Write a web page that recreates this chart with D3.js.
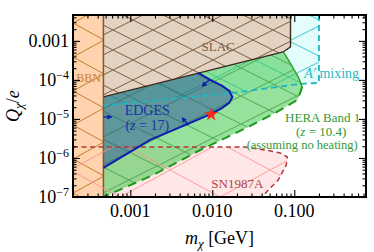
<!DOCTYPE html>
<html>
<head>
<meta charset="utf-8">
<script src="https://cdn.jsdelivr.net/npm/d3@7"></script>
<style>
body { margin: 0; background: #fff; }
text { font-family: "Liberation Serif", "DejaVu Serif", serif; }
</style>
</head>
<body>
<script>
// values: mass m_chi in GeV, charge Q_chi in units of e
var massRange = [2e-4, 0.75];
var chargeRange = [1e-7, 4.6e-3];

var massTicks = [0.001, 0.01, 0.1];
var massTickLabels = ["0.001", "0.010", "0.100"];
var chargeTicks = [1e-7, 1e-6, 1e-5, 1e-4, 1e-3];
var chargeTickLabels = [["10", "\u22127"], ["10", "\u22126"], ["10", "\u22125"], ["10", "\u22124"], ["0.001", ""]];

var bbnMass = 4.7e-4;

var slacBound = [[2e-4, 4.6e-3], [0.09, 4.6e-3], [0.09, 7.0e-4], [0.0734, 5.2e-4], [4.7e-4, 3.66e-5], [2e-4, 2.9e-5]];

var mixingBound = [[4.7e-4, 4.6e-3], [0.2, 4.6e-3], [0.2, 8.4e-5], [0.12, 7.9e-5], [0.018, 4.64e-5], [4.7e-4, 2.2e-5]];
var mixingLine = [[0.2, 4.6e-3], [0.2, 8.4e-5], [0.12, 7.9e-5], [0.018, 4.64e-5], [4.7e-4, 2.2e-5]];

var heraSolid = [[0.0734, 5.2e-4], [0.085, 3.2e-4], [0.112, 1.19e-4], [0.125, 6.6e-5]];
var heraDashed = [[0.125, 6.6e-5], [0.118, 4.64e-5], [0.109, 3.07e-5], [0.0586, 1.43e-5], [0.029, 6.6e-6], [0.00714, 1.6e-6], [0.0019, 3.66e-7], [4.7e-4, 1e-7]];

var edgesCurve = [[0.00675, 1.51e-4], [0.00946, 1.0e-4], [0.01324, 7.0e-5], [0.0161, 5.2e-5], [0.0176, 3.66e-5],
                  [0.0161, 2.57e-5], [0.01324, 1.92e-5], [0.00973, 1.34e-5], [0.0054, 7.9e-6], [0.00175, 2.9e-6], [4.7e-4, 5.55e-7]];
var edgesArrows = [
  [[4.7e-4, 1.12e-5], [5.9e-4, 1.12e-5]],
  [[0.00946, 1.06e-4], [0.00755, 7.0e-5]],
  [[0.0051, 7.0e-6], [0.0043, 1.06e-5]]
];
var edgesStar = [0.0097, 1.3e-5];

var snLine = [[2e-4, 1.9e-6], [0.0252, 1.9e-6], [0.0443, 1.6e-6], [0.0675, 1.34e-6], [0.0822, 1.06e-6],
              [0.0798, 6.6e-7], [0.0638, 2.73e-7], [0.0482, 1.51e-7], [0.0407, 1e-7]];

// text parts: [string, italic?]
var labels = [
  {t: [["BBN", 0]], m: 3.1e-4, q: 1.12e-4, c: "#c8803a", s: 12},
  {t: [["SLAC", 0]], m: 0.0118, q: 7.0e-4, c: "#7a5c44", s: 13},
  {t: [["EDGES", 0]], m: 1.61e-3, q: 1.7e-5, c: "#1f2fa8", s: 14},
  {t: [["(", 0], ["z", 1], [" = 17)", 0]], m: 1.61e-3, q: 7.0e-6, c: "#1f2fa8", s: 14},
  {t: [["HERA Band 1", 0]], m: 0.222, q: 1.1e-5, c: "#2f9a35", s: 13},
  {t: [["(", 0], ["z", 1], [" = 10.4)", 0]], m: 0.213, q: 4.9e-6, c: "#2f9a35", s: 13},
  {t: [["(assuming no heating)", 0]], m: 0.125, q: 2.2e-6, c: "#2f9a35", s: 12.5},
  {t: [["SN1987A", 0]], m: 0.0202, q: 2.29e-7, c: "#b04545", s: 13},
  {t: [["A\u2032", 1], [" mixing", 0]], m: 0.286, q: 1.5e-4, c: "#26b9c6", s: 14}
];

var W = 374, H = 252;
var x = d3.scaleLog().domain(massRange).range([73, 366]);
var y = d3.scaleLog().domain(chargeRange).range([197, 15]);

var svg = d3.select("body").append("svg").attr("width", W).attr("height", H);
var defs = svg.append("defs");

defs.append("clipPath").attr("id", "plotclip").append("rect")
  .attr("x", x.range()[0]).attr("y", y.range()[1])
  .attr("width", x.range()[1] - x.range()[0]).attr("height", y.range()[0] - y.range()[1]);

function hatch(id, w, h, color, sw, ox, oy) {
  var p = defs.append("pattern").attr("id", id)
    .attr("patternUnits", "userSpaceOnUse")
    .attr("width", w).attr("height", h).attr("x", ox).attr("y", oy);
  p.append("path")
    .attr("d", "M" + (-w / 2) + "," + (-h / 2) + "L" + (w * 1.5) + "," + (h * 1.5) +
               "M" + (-w / 2) + "," + (h * 1.5) + "L" + (w * 1.5) + "," + (-h / 2))
    .attr("stroke", color).attr("stroke-width", sw).attr("fill", "none");
}
hatch("hBBN", 62, 34, "#c77a2e", 1, 73, 23);
hatch("hSLAC", 40, 20, "#6e4c30", 0.9, 73, 10);
hatch("hMix", 72, 36, "#3cc6cf", 1, 73, 5);
hatch("hHera", 56, 28, "#3d9a3d", 0.8, 73, 12);
hatch("hSN", 100, 54, "#ff8e8e", 1, 70, 116);

var line = d3.line().x(function(d) { return x(d[0]); }).y(function(d) { return y(d[1]); });
var area = function(pts) { return line(pts) + "Z"; };

var g = svg.append("g").attr("clip-path", "url(#plotclip)");

// region outlines built from the boundary arrays
var snArea = snLine.concat([[massRange[0], chargeRange[0]]]);
var heraArea = [[bbnMass, 3.66e-5]].concat(heraSolid, heraDashed.slice(1));
var edgesArea = [[bbnMass, 3.66e-5]].concat(edgesCurve);
var bbnArea = [[massRange[0], chargeRange[0]], [bbnMass, chargeRange[0]], [bbnMass, chargeRange[1]], [massRange[0], chargeRange[1]]];

g.append("path").attr("d", area(snArea)).attr("fill", "#ffe7e7");
g.append("path").attr("d", area(mixingBound)).attr("fill", "#e3fcfc");
g.append("path").attr("d", area(mixingBound)).attr("fill", "url(#hMix)");
g.append("path").attr("d", area(heraArea)).attr("fill", "#40c84a").attr("fill-opacity", 0.55);
g.append("path").attr("d", area(heraArea)).attr("fill", "url(#hHera)");
g.append("path").attr("d", area(edgesArea)).attr("fill", "#1f3f9e").attr("fill-opacity", 0.46);

g.append("path").attr("d", area(slacBound)).attr("fill", "#e2d3c3");
g.append("path").attr("d", area(slacBound)).attr("fill", "url(#hSLAC)");
g.append("path").attr("d", line(slacBound.slice(1, 5))).attr("fill", "none")
  .attr("stroke", "#3b2a1c").attr("stroke-width", 1.4);

g.append("path").attr("d", area(bbnArea)).attr("fill", "#fed3ad");
g.append("path").attr("d", area(bbnArea)).attr("fill", "url(#hBBN)");
g.append("path").attr("d", line([[bbnMass, chargeRange[0]], [bbnMass, chargeRange[1]]]))
  .attr("stroke", "#8a5328").attr("stroke-width", 1.5);

g.append("path").attr("d", area(snArea)).attr("fill", "url(#hSN)").attr("opacity", 0.85);
g.append("path").attr("d", line(snLine)).attr("fill", "none")
  .attr("stroke", "#b03a3a").attr("stroke-width", 1.5).attr("stroke-dasharray", "5,3.5");

g.append("path").attr("d", line(mixingLine)).attr("fill", "none")
  .attr("stroke", "#1fb5c2").attr("stroke-width", 1.8).attr("stroke-dasharray", "6,4");

g.append("path").attr("d", line(heraSolid)).attr("fill", "none")
  .attr("stroke", "#23a023").attr("stroke-width", 1.4);
g.append("path").attr("d", line(heraDashed)).attr("fill", "none")
  .attr("stroke", "#1a9a1a").attr("stroke-width", 2).attr("stroke-dasharray", "9,6");

g.append("path").attr("d", line(edgesCurve)).attr("fill", "none")
  .attr("stroke", "#0c1cb0").attr("stroke-width", 2);

defs.append("marker").attr("id", "arr").attr("viewBox", "0 0 10 10")
  .attr("refX", 8).attr("refY", 5).attr("markerWidth", 4).attr("markerHeight", 4)
  .attr("orient", "auto")
  .append("path").attr("d", "M0,0L10,5L0,10Z").attr("fill", "#0c1cb0");

g.selectAll(".arrow").data(edgesArrows).enter().append("path")
  .attr("class", "arrow")
  .attr("d", function(d) { return line(d); })
  .attr("stroke", "#0c1cb0").attr("stroke-width", 1.3).attr("marker-end", "url(#arr)");

g.append("path").attr("d", d3.symbol(d3.symbolStar, 60)())
  .attr("transform", "translate(" + x(edgesStar[0]) + "," + y(edgesStar[1]) + ")")
  .attr("fill", "#ff2a1a");

// labels
var lab = g.selectAll(".lab").data(labels).enter().append("text")
  .attr("class", "lab")
  .attr("x", function(d) { return x(d.m); })
  .attr("y", function(d) { return y(d.q); })
  .attr("dy", "0.35em")
  .attr("text-anchor", "middle")
  .attr("fill", function(d) { return d.c; })
  .style("font-size", function(d) { return d.s + "px"; });
lab.selectAll("tspan").data(function(d) { return d.t; }).enter().append("tspan")
  .style("font-style", function(p) { return p[1] ? "italic" : "normal"; })
  .text(function(p) { return p[0]; });

// axes
function minorTicks(dom) {
  var out = [];
  for (var e = -8; e <= 1; e++) {
    for (var k = 2; k <= 9; k++) {
      var v = k * Math.pow(10, e);
      if (v > dom[0] && v < dom[1]) out.push(v);
    }
  }
  return out;
}
var xMinor = minorTicks(massRange), yMinor = minorTicks(chargeRange);

function addAxis(axisFn, scale, vals, size, transform) {
  var a = svg.append("g").attr("transform", transform)
    .call(axisFn(scale).tickValues(vals).tickSize(size).tickFormat(""));
  a.select(".domain").remove();
  a.selectAll("line").attr("stroke", "#000").attr("stroke-width", 1.1);
}
var x0 = x.range()[0], x1 = x.range()[1], y0 = y.range()[0], y1 = y.range()[1];
addAxis(d3.axisBottom, x, massTicks, -7, "translate(0," + y0 + ")");
addAxis(d3.axisBottom, x, xMinor, -3.5, "translate(0," + y0 + ")");
addAxis(d3.axisTop, x, massTicks, -7, "translate(0," + y1 + ")");
addAxis(d3.axisTop, x, xMinor, -3.5, "translate(0," + y1 + ")");
addAxis(d3.axisLeft, y, chargeTicks, -7, "translate(" + x0 + ",0)");
addAxis(d3.axisLeft, y, yMinor, -3.5, "translate(" + x0 + ",0)");
addAxis(d3.axisRight, y, chargeTicks, -7, "translate(" + x1 + ",0)");
addAxis(d3.axisRight, y, yMinor, -3.5, "translate(" + x1 + ",0)");

svg.append("rect").attr("x", x0).attr("y", y1).attr("width", x1 - x0).attr("height", y0 - y1)
  .attr("fill", "none").attr("stroke", "#000").attr("stroke-width", 2);

svg.selectAll(".xl").data(massTicks).enter().append("text")
  .attr("class", "xl")
  .attr("x", function(d) { return x(d); })
  .attr("y", y0 + 20)
  .attr("text-anchor", "middle")
  .style("font-size", "18px")
  .text(function(d, i) { return massTickLabels[i]; });

var yl = svg.selectAll(".yl").data(chargeTicks).enter().append("text")
  .attr("class", "yl")
  .attr("x", x0 - 4)
  .attr("y", function(d) { return y(d) + 6; })
  .attr("text-anchor", "end")
  .style("font-size", "18px");
yl.append("tspan").text(function(d, i) { return chargeTickLabels[i][0]; });
yl.append("tspan").attr("dy", -7).style("font-size", "12px")
  .text(function(d, i) { return chargeTickLabels[i][1]; });

var xt = svg.append("text").attr("x", (x0 + x1) / 2).attr("y", 244)
  .attr("text-anchor", "middle").style("font-size", "18px");
xt.append("tspan").style("font-style", "italic").text("m");
xt.append("tspan").attr("dy", 4).style("font-size", "13px").style("font-style", "italic").text("\u03c7");
xt.append("tspan").attr("dy", -4).text(" [GeV]");

var yt = svg.append("text").attr("transform", "translate(19," + ((y0 + y1) / 2) + ") rotate(-90)")
  .attr("text-anchor", "middle").style("font-size", "18px");
yt.append("tspan").style("font-style", "italic").text("Q");
yt.append("tspan").attr("dy", 4).style("font-size", "13px").style("font-style", "italic").text("\u03c7");
yt.append("tspan").attr("dy", -4).text("/");
yt.append("tspan").style("font-style", "italic").text("e");
</script>
</body>
</html>
